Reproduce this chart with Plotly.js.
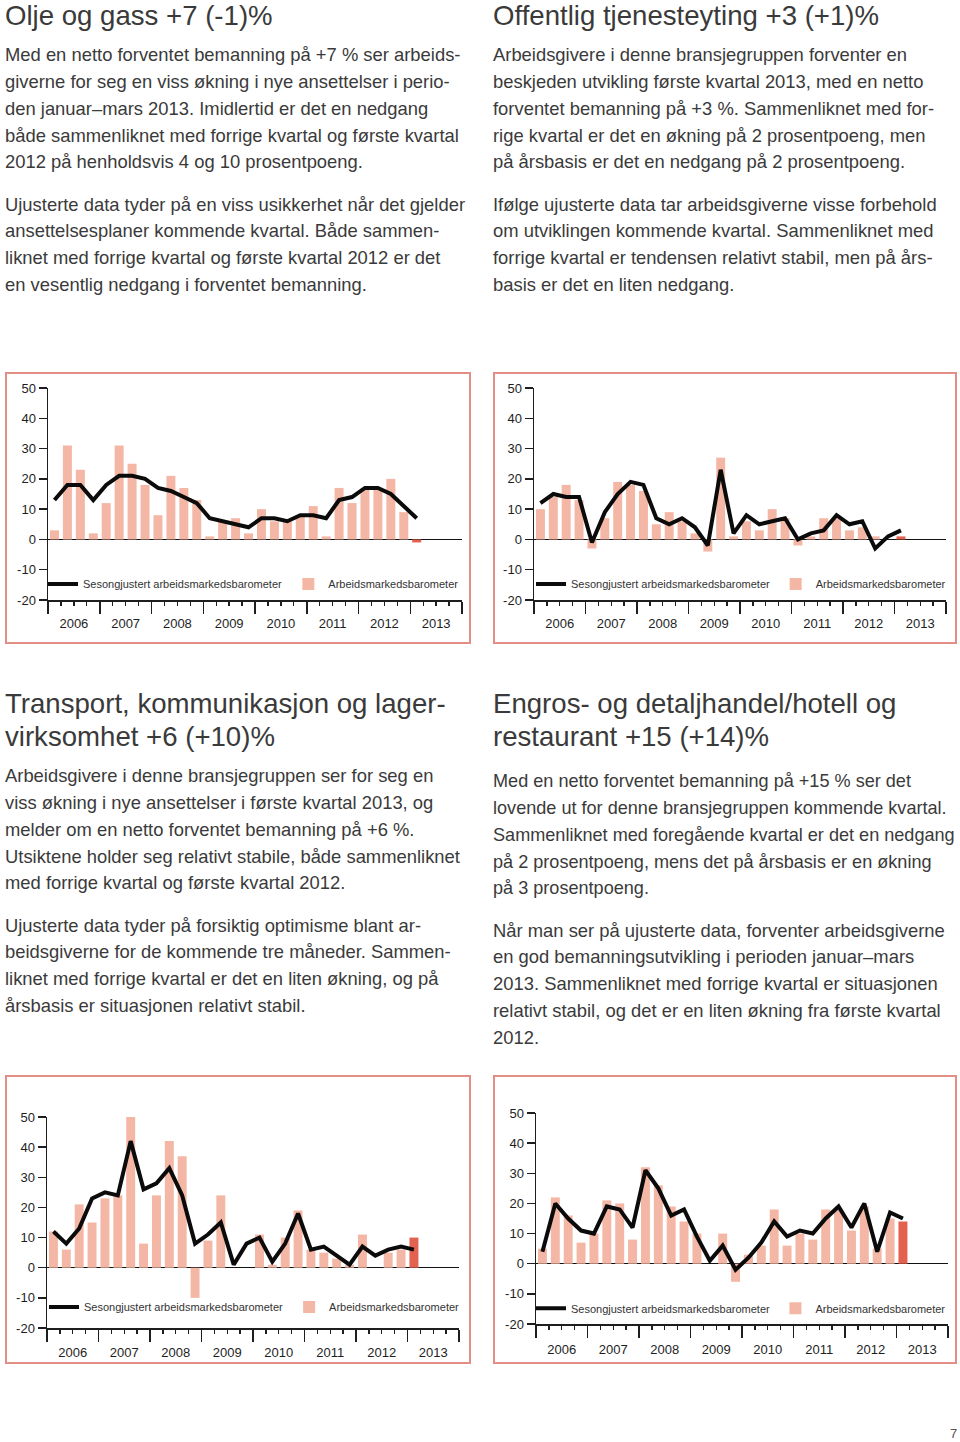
<!DOCTYPE html>
<html><head><meta charset="utf-8">
<script src="https://cdn.plot.ly/plotly-3.0.1.min.js"></script>
<style>
html,body{margin:0;padding:0;background:#fff}
body{width:960px;height:1442px;position:relative;overflow:hidden;font-family:"Liberation Sans",Arial,Helvetica,sans-serif;color:#3a3a3a}
.t{position:absolute;font-size:27.6px;line-height:33px;white-space:nowrap}
.p{position:absolute;font-size:18.4px;line-height:26.85px;white-space:nowrap}
.box{position:absolute;border:2px solid #e48f86;box-sizing:border-box}
.plot{position:absolute;left:0;top:0}
.pg{position:absolute;left:950px;top:1426px;font-size:13px;color:#555}
</style></head><body>

<div class="t" style="left:5px;top:-1.3px">Olje og gass +7 (-1)%</div>
<div class="p" style="left:5px;top:42px">Med en netto forventet bemanning på +7 % ser arbeids-<br>giverne for seg en viss økning i nye ansettelser i perio-<br>den januar–mars 2013. Imidlertid er det en nedgang<br>både sammenliknet med forrige kvartal og første kvartal<br>2012 på henholdsvis 4 og 10 prosentpoeng.</div>
<div class="p" style="left:5px;top:191.5px">Ujusterte data tyder på en viss usikkerhet når det gjelder<br>ansettelsesplaner kommende kvartal. Både sammen-<br>liknet med forrige kvartal og første kvartal 2012 er det<br>en vesentlig nedgang i forventet bemanning.</div>

<div class="t" style="left:493px;top:-1.3px">Offentlig tjenesteyting +3 (+1)%</div>
<div class="p" style="left:493px;top:42px">Arbeidsgivere i denne bransjegruppen forventer en<br>beskjeden utvikling første kvartal 2013, med en netto<br>forventet bemanning på +3 %. Sammenliknet med for-<br>rige kvartal er det en økning på 2 prosentpoeng, men<br>på årsbasis er det en nedgang på 2 prosentpoeng.</div>
<div class="p" style="left:493px;top:191.5px">Ifølge ujusterte data tar arbeidsgiverne visse forbehold<br>om utviklingen kommende kvartal. Sammenliknet med<br>forrige kvartal er tendensen relativt stabil, men på års-<br>basis er det en liten nedgang.</div>

<div class="t" style="left:5px;top:687px">Transport, kommunikasjon og lager-<br>virksomhet +6 (+10)%</div>
<div class="p" style="left:5px;top:763px">Arbeidsgivere i denne bransjegruppen ser for seg en<br>viss økning i nye ansettelser i første kvartal 2013, og<br>melder om en netto forventet bemanning på +6 %.<br>Utsiktene holder seg relativt stabile, både sammenliknet<br>med forrige kvartal og første kvartal 2012.</div>
<div class="p" style="left:5px;top:912.5px">Ujusterte data tyder på forsiktig optimisme blant ar-<br>beidsgiverne for de kommende tre måneder. Sammen-<br>liknet med forrige kvartal er det en liten økning, og på<br>årsbasis er situasjonen relativt stabil.</div>

<div class="t" style="left:493px;top:687px">Engros- og detaljhandel/hotell og<br>restaurant +15 (+14)%</div>
<div class="p" style="left:493px;top:768px;font-size:18.1px">Med en netto forventet bemanning på +15 % ser det<br>lovende ut for denne bransjegruppen kommende kvartal.<br>Sammenliknet med foregående kvartal er det en nedgang<br>på 2 prosentpoeng, mens det på årsbasis er en økning<br>på 3 prosentpoeng.</div>
<div class="p" style="left:493px;top:917.5px">Når man ser på ujusterte data, forventer arbeidsgiverne<br>en god bemanningsutvikling i perioden januar–mars<br>2013. Sammenliknet med forrige kvartal er situasjonen<br>relativt stabil, og det er en liten økning fra første kvartal<br>2012.</div>

<div class="box" style="left:5px;top:372px;width:466px;height:272px"><div id="c1" class="plot"></div></div>
<div class="box" style="left:493px;top:372px;width:464px;height:272px"><div id="c2" class="plot"></div></div>
<div class="box" style="left:5px;top:1075px;width:466px;height:289px"><div id="c3" class="plot"></div></div>
<div class="box" style="left:493px;top:1075px;width:464px;height:289px"><div id="c4" class="plot"></div></div>

<div class="pg">7</div>

<script>
// ---- data ----
const quarters = ['2006K1','2006K2','2006K3','2006K4','2007K1','2007K2','2007K3','2007K4',
  '2008K1','2008K2','2008K3','2008K4','2009K1','2009K2','2009K3','2009K4',
  '2010K1','2010K2','2010K3','2010K4','2011K1','2011K2','2011K3','2011K4',
  '2012K1','2012K2','2012K3','2012K4','2013K1'];
const years = ['2006','2007','2008','2009','2010','2011','2012','2013'];
const yTickVals = [-20,-10,0,10,20,30,40,50];
const yTickText = ['-20','-10','0','10','20','30','40','50'];
const seriesNames = ['Sesongjustert arbeidsmarkedsbarometer','Arbeidsmarkedsbarometer'];

// Olje og gass
const oljeSesong = [13,18,18,13, 18,21,21,20, 17,16,14,12, 7,6,5,4, 7,7,6,8, 8,7,13,14, 17,17,15,11, 7];
const oljeBaro   = [3,31,23,2, 12,31,25,18, 8,21,17,13, 1,6,7,2, 10,6,6,8, 11,1,17,12, 17,17,20,9, -1];
// Offentlig tjenesteyting
const offSesong = [12,15,14,14, -1,9,15,19, 18,7,5,7, 4,-2,23,2, 8,5,6,7, 0,2,3,8, 5,6,-3,1, 3];
const offBaro   = [10,14,18,13, -3,7,19,18, 16,5,9,6, 2,-4,27,1, 6,3,10,7, -2,1,7,7, 3,4,1,0, 1];
// Transport, kommunikasjon og lagervirksomhet
const transSesong = [12,8,13,23, 25,24,42,26, 28,33,24,8, 11,15,1,8, 10,2,8,18, 6,7,4,1, 7,4,6,7, 6];
const transBaro   = [12,6,21,15, 23,24,59,8, 24,42,37,-10, 9,24,0,0, 11,1,10,19, 6,5,3,1, 11,0,5,6, 10];
// Engros- og detaljhandel/hotell og restaurant
const engrosSesong = [4,20,15,11, 10,19,18,12, 31,25,16,18, 9,1,6,-2, 2,7,14,9, 11,10,15,19, 12,20,4,17, 15];
const engrosBaro   = [5,22,16,7, 10,21,20,8, 32,26,19,14, 10,0,10,-6, 3,6,18,6, 10,8,18,18, 11,19,5,15, 14];

// ---- styling ----
const PINK = '#f4b7a5', RED = '#e3624f', INK = '#1e1e1e', LINE = '#0b0b0b';
const FONT = 'Liberation Sans, Arial, Helvetica, sans-serif';
const xq = quarters.map(q => Number(q.slice(0,4)) + (Number(q.slice(5)) - 0.5) / 4);
const yearStart = Number(years[0]), yearEnd = Number(years[years.length-1]) + 1;
const yearBounds = years.map(Number).concat([yearEnd]);
const yearMid = years.map(y => Number(y) + 0.5);

function draw(id, sesong, baro, g) {
  const colors = baro.map((v, i) => i === baro.length - 1 ? RED : PINK);
  const pw = g.W - g.l - g.r;
  const traces = [
    {type:'bar', x:xq, y:baro, width:0.174, name:seriesNames[1], legend:'legend2',
     marker:{color:colors, line:{width:0}}, cliponaxis:false, hoverinfo:'skip'},
    {type:'scatter', mode:'lines', x:xq, y:sesong, xaxis:'x2', name:seriesNames[0], legend:'legend',
     line:{color:LINE, width:4}, hoverinfo:'skip'}
  ];
  const legBase = {orientation:'h', xanchor:'left', yanchor:'middle', y:g.ly,
    font:{family:FONT, size:11, color:'#333'}, bgcolor:'rgba(0,0,0,0)', borderwidth:0};
  const layout = {
    width:g.W, height:g.H, margin:{l:g.l, r:g.r, t:g.t, b:g.b, autoexpand:false},
    paper_bgcolor:'rgba(0,0,0,0)', plot_bgcolor:'rgba(0,0,0,0)',
    font:{family:FONT, size:13, color:INK}, showlegend:true, hovermode:false,
    legend:Object.assign({}, legBase, {x:0, indentation:g.ind}),
    legend2:Object.assign({}, legBase, {x:(g.t2 - 40) / pw}),
    xaxis:{range:[yearStart, yearEnd], tickmode:'array', tickvals:yearBounds, showticklabels:false,
      ticks:'outside', ticklen:12, tickwidth:1.5, tickcolor:INK, showline:true, linecolor:INK, linewidth:1.5,
      showgrid:false, zeroline:false, fixedrange:true,
      minor:{tickmode:'linear', tick0:yearStart, dtick:0.25, ticks:'outside', ticklen:4, tickwidth:1.3, tickcolor:INK, showgrid:false}},
    xaxis2:{overlaying:'x', anchor:'y', side:'bottom', range:[yearStart, yearEnd], tickmode:'array',
      tickvals:yearMid, ticktext:years, ticks:'', showline:false, showgrid:false, zeroline:false,
      ticklabelstandoff:g.so, tickfont:{size:13, color:INK}, fixedrange:true},
    yaxis:{range:[-20, 50], tickmode:'array', tickvals:yTickVals, ticktext:yTickText,
      ticks:'outside', ticklen:8, tickwidth:1.5, tickcolor:INK, showline:true, linecolor:INK, linewidth:1.5,
      showgrid:false, zeroline:true, zerolinecolor:'#111', zerolinewidth:1.2, fixedrange:true,
      tickfont:{size:13, color:INK}}
  };
  Plotly.newPlot(id, traces, layout, {staticPlot:true, displayModeBar:false});
}

draw('c1', oljeSesong, oljeBaro,     {W:462, H:268, l:41.3, r:7.3, t:13.7, b:41.7, ly:0.0757, ind:-5,  t2:280, so:14});
draw('c2', offSesong, offBaro,       {W:460, H:268, l:38.7, r:8.7, t:13.7, b:41.7, ly:0.0757, ind:-3,  t2:282, so:14});
draw('c3', transSesong, transBaro,   {W:462, H:285, l:39.7, r:10,  t:40.3, b:33.7, ly:0.100,  ind:-3,  t2:282.3, so:15});
draw('c4', engrosSesong, engrosBaro, {W:460, H:285, l:40.7, r:7,   t:35.7, b:38,   ly:0.0743, ind:-5,  t2:279.6, so:16});
</script>
</body></html>
